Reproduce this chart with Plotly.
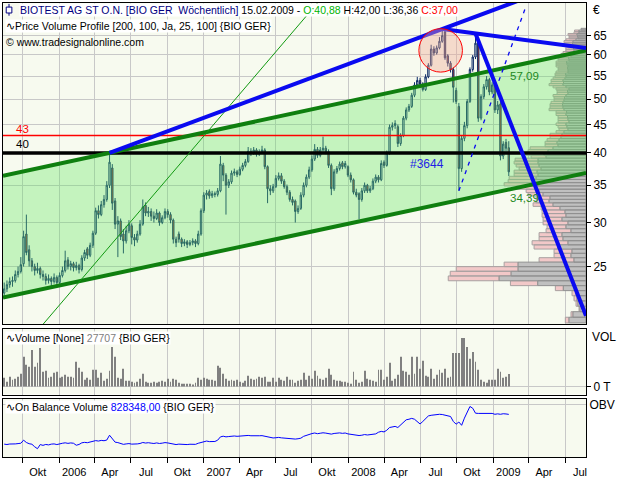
import numpy as np
import pandas as pd
import plotly.graph_objects as go

# ---------------- weekly data: BIOTEST AG ST O.N. (BIO GER) ----------------
weeks = pd.date_range("2005-08-15", periods=183, freq="7D")

opens = [22.4, 22.8, 23.2, 23.5, 23.6, 24.2, 24.5, 25.3, 28.6, 26.8,
         25.6, 25.0, 24.6, 24.8, 24.2, 24.0, 23.6, 23.8, 23.5, 23.9,
         23.4, 24.1, 24.6, 25.7, 25.0, 25.3, 24.9, 25.1, 24.7, 25.9,
         26.9, 26.2, 27.3, 28.7, 31.5, 31.0, 32.3, 33.0, 35.0, 37.6,
         32.8, 29.8, 30.2, 28.6, 27.8, 29.0, 29.6, 28.2, 27.9, 28.6,
         29.8, 32.2, 31.2, 31.4, 30.8, 30.5, 31.2, 30.0, 30.6, 31.4,
         31.0, 30.3, 28.0, 28.6, 28.0, 27.5, 27.7, 27.4, 27.6, 27.8,
         27.5, 28.6, 31.5, 33.6, 34.1, 33.5, 33.8, 33.7, 34.2, 38.0,
         36.5, 35.0, 35.5, 36.8, 37.0, 36.6, 37.4, 38.0, 38.6, 40.3,
         40.0, 40.5, 39.8, 40.2, 40.5, 37.8, 34.5, 34.2, 34.8, 36.0,
         36.4, 35.6, 34.8, 34.0, 33.0, 32.8, 31.4, 31.8, 33.6, 35.0,
         36.2, 37.3, 39.0, 40.6, 39.6, 40.5, 40.8, 40.2, 38.0, 34.5,
         37.0, 37.5, 38.4, 37.8, 37.8, 36.5, 35.8, 34.0, 33.8, 33.0,
         34.2, 35.0, 34.2, 34.5, 35.6, 36.2, 35.8, 38.5, 38.0, 40.0,
         44.5, 44.8, 44.6, 41.6, 43.0, 46.2, 47.8, 48.5, 50.8, 53.0,
         54.0, 53.2, 52.0, 54.8, 57.5, 61.5, 60.5, 61.8, 63.5, 66.0,
         59.8, 58.0, 56.5, 51.8, 48.5, 37.5, 42.5, 44.8, 49.5, 56.5,
         59.5, 63.4, 46.2, 50.5, 52.6, 54.2, 51.5, 53.4, 47.8, 49.0,
         39.5, 41.8, 40.88]

highs = [23.4, 23.6, 23.9, 24.0, 24.6, 25.0, 26.0, 29.0, 31.0, 27.3,
         25.9, 25.3, 25.4, 25.0, 24.6, 24.3, 24.2, 24.0, 24.3, 24.1,
         24.4, 25.0, 26.7, 26.0, 25.6, 25.5, 25.5, 25.3, 26.2, 26.8,
         27.1, 27.6, 29.0, 31.9, 32.2, 32.8, 33.6, 35.6, 40.0, 38.2,
         33.2, 30.8, 30.5, 29.2, 29.6, 30.3, 29.9, 28.6, 29.0, 30.3,
         33.0, 32.6, 32.0, 31.8, 31.4, 31.7, 31.4, 30.9, 31.8, 31.7,
         31.3, 30.5, 28.3, 28.9, 28.2, 28.0, 27.9, 27.9, 28.1, 28.0,
         29.0, 31.8, 34.0, 34.3, 34.4, 34.2, 34.1, 34.6, 39.5, 38.4,
         36.8, 35.9, 37.2, 37.5, 37.3, 37.8, 38.4, 39.0, 41.0, 40.8,
         41.0, 40.8, 40.6, 41.2, 40.8, 38.0, 35.0, 35.2, 36.5, 36.9,
         36.8, 35.9, 35.1, 34.3, 33.4, 33.0, 32.2, 34.0, 35.4, 36.6,
         37.8, 39.6, 41.5, 41.0, 41.0, 42.8, 41.2, 40.6, 38.3, 37.4,
         37.9, 38.6, 38.7, 38.7, 38.0, 36.9, 36.0, 34.5, 34.0, 34.6,
         35.4, 35.2, 34.9, 36.0, 36.6, 36.5, 38.8, 38.8, 40.4, 45.0,
         45.4, 45.8, 45.0, 43.4, 46.6, 48.3, 49.0, 51.3, 53.6, 54.8,
         54.6, 53.6, 55.4, 58.0, 62.6, 62.2, 62.4, 64.6, 66.8, 66.4,
         60.2, 58.5, 57.0, 52.4, 49.2, 43.0, 45.5, 50.0, 57.0, 60.0,
         65.6, 64.0, 51.0, 53.2, 55.0, 54.6, 53.6, 53.8, 49.6, 49.5,
         42.0, 42.4, 42.0]

lows = [21.9, 22.5, 22.9, 23.0, 23.4, 23.9, 24.3, 25.0, 26.2, 25.0,
        24.5, 24.1, 24.3, 23.8, 23.6, 23.2, 23.3, 22.9, 23.3, 23.0,
        23.2, 23.9, 24.4, 24.7, 24.6, 24.5, 24.6, 24.3, 24.5, 25.6,
        25.8, 26.0, 27.0, 28.5, 30.5, 30.8, 31.9, 32.7, 34.6, 31.6,
        29.2, 26.0, 27.9, 26.4, 27.5, 28.7, 27.4, 27.2, 27.6, 28.4,
        29.6, 30.8, 30.7, 30.2, 30.0, 30.3, 29.6, 29.8, 30.4, 30.6,
        29.9, 27.5, 27.1, 27.6, 27.1, 27.2, 27.0, 27.2, 27.3, 27.1,
        27.3, 28.4, 31.2, 33.0, 33.1, 33.2, 33.3, 33.4, 34.0, 35.6,
        31.0, 34.6, 35.2, 36.4, 36.2, 36.4, 37.1, 37.7, 38.4, 39.5,
        39.7, 39.4, 39.5, 39.9, 37.4, 32.5, 33.6, 33.9, 34.6, 35.7,
        35.2, 34.5, 33.6, 32.7, 32.2, 30.0, 31.1, 31.6, 33.3, 34.7,
        35.9, 37.0, 38.7, 39.2, 39.3, 40.2, 39.8, 37.6, 33.6, 34.2,
        36.7, 37.2, 37.4, 37.5, 36.2, 35.4, 33.7, 33.3, 30.4, 32.7,
        33.9, 33.9, 33.9, 34.3, 35.3, 35.4, 35.6, 37.6, 37.8, 39.7,
        43.9, 44.2, 41.0, 41.2, 42.7, 45.8, 47.4, 48.2, 50.4, 52.6,
        52.8, 51.6, 51.7, 54.5, 57.2, 59.8, 60.1, 61.4, 63.1, 58.8,
        57.2, 55.8, 49.3, 49.0, 34.2, 37.0, 42.0, 44.3, 49.2, 56.0,
        59.0, 45.5, 45.8, 50.0, 52.0, 50.8, 51.0, 47.2, 47.0, 38.8,
        39.0, 40.2, 36.36]

closes = [22.8, 23.2, 23.5, 23.6, 24.2, 24.5, 25.2, 28.3, 26.5, 25.6,
          25.0, 24.6, 24.8, 24.2, 24.0, 23.6, 23.8, 23.5, 23.9, 23.4,
          24.1, 24.6, 25.6, 25.0, 25.3, 24.9, 25.1, 24.7, 25.9, 26.5,
          26.2, 27.3, 28.7, 31.5, 31.0, 32.3, 33.0, 35.0, 38.5, 32.5,
          29.8, 30.2, 28.3, 27.8, 29.0, 29.8, 28.2, 27.9, 28.6, 29.8,
          32.0, 31.2, 31.4, 30.8, 30.5, 31.2, 30.0, 30.6, 31.4, 31.0,
          30.3, 28.0, 27.6, 28.0, 27.5, 27.7, 27.4, 27.6, 27.8, 27.5,
          28.6, 31.5, 33.6, 33.9, 33.5, 33.8, 33.7, 34.2, 38.2, 36.5,
          35.0, 35.5, 36.8, 37.0, 36.6, 37.4, 38.0, 38.6, 40.3, 40.0,
          40.5, 39.8, 40.2, 40.5, 37.8, 34.5, 34.2, 34.8, 36.0, 36.4,
          35.6, 34.8, 34.0, 33.0, 32.6, 31.4, 31.8, 33.6, 35.0, 36.2,
          37.3, 39.0, 40.6, 39.6, 40.5, 40.8, 40.2, 38.0, 34.5, 37.0,
          37.5, 38.2, 37.8, 38.3, 36.5, 35.8, 34.0, 33.6, 33.0, 34.2,
          35.0, 34.2, 34.5, 35.6, 36.2, 35.8, 38.3, 38.0, 40.0, 44.5,
          44.8, 45.2, 41.6, 43.0, 46.2, 47.8, 48.5, 50.8, 53.0, 54.0,
          53.2, 52.0, 54.8, 57.5, 61.5, 60.5, 61.8, 63.5, 65.0, 59.3,
          58.0, 56.5, 52.5, 49.5, 37.5, 42.5, 44.8, 49.5, 56.5, 59.5,
          63.0, 46.2, 50.5, 52.6, 54.2, 51.5, 53.0, 47.8, 48.8, 39.5,
          41.5, 40.8, 37.0]

volumes = [19600, 10900, 21800, 15300, 17400, 21800, 28300, 65400, 48000, 43600,
           80700, 43600, 52300, 85000, 32700, 34900, 19600, 21800, 30500, 32700,
           19600, 21800, 26200, 21800, 21800, 19600, 54500, 41400, 32700, 15300,
           19600, 15300, 37100, 37100, 19600, 30500, 13100, 17400, 34900, 87200,
           65400, 19600, 17400, 39200, 13100, 13100, 10900, 8700, 10900, 17400,
           28300, 10900, 8700, 8700, 10900, 8700, 10900, 13100, 10900, 17400,
           10900, 17400, 15300, 8700, 6500, 6500, 6500, 6500, 4400, 8700,
           19600, 15300, 19600, 17400, 15300, 15300, 13100, 45800, 41400, 28300,
           17400, 13100, 15300, 13100, 15300, 10900, 8700, 13100, 24000, 17400,
           15300, 17400, 21800, 19600, 21800, 10900, 10900, 19600, 10900, 19600,
           15300, 13100, 21800, 15300, 15300, 8700, 13100, 15300, 30500, 15300,
           24000, 17400, 34900, 24000, 17400, 15300, 19600, 39200, 26200, 15300,
           13100, 13100, 10900, 10900, 8700, 6500, 32700, 15300, 8700, 10900,
           34900, 17400, 15300, 13100, 10900, 37100, 37100, 15300, 21800, 52300,
           13100, 17400, 26200, 65400, 34900, 32700, 26200, 65400, 28300, 65400,
           39200, 56700, 24000, 21800, 39200, 17400, 26200, 37100, 30500, 39200,
           19600, 21800, 74100, 74100, 74100, 106800, 106800, 87200, 61000, 76300,
           54500, 37100, 15300, 10900, 8700, 15300, 15300, 15300, 39200, 32700,
           19600, 21800, 27707]

obv = [288000, 281000, 290000, 285000, 292000, 298000, 304000, 360000, 318000, 296000,
       286000, 240000, 205000, 280000, 266000, 282000, 274000, 288000, 292000, 280000,
       298000, 304000, 312000, 302000, 310000, 304000, 268000, 282000, 312000, 320000,
       314000, 326000, 340000, 352000, 344000, 356000, 350000, 362000, 450000, 380000,
       324000, 316000, 300000, 284000, 292000, 298000, 288000, 284000, 292000, 300000,
       318000, 308000, 314000, 306000, 300000, 310000, 300000, 306000, 316000, 310000,
       302000, 286000, 280000, 288000, 282000, 286000, 280000, 286000, 290000, 284000,
       304000, 318000, 336000, 344000, 334000, 340000, 336000, 360000, 420000, 432000,
       420000, 426000, 432000, 436000, 430000, 436000, 440000, 444000, 446000, 440000,
       444000, 436000, 440000, 442000, 430000, 420000, 412000, 400000, 404000, 410000,
       402000, 396000, 392000, 388000, 386000, 380000, 386000, 396000, 430000, 450000,
       470000, 480000, 490000, 478000, 486000, 494000, 488000, 480000, 470000, 482000,
       488000, 492000, 484000, 490000, 474000, 466000, 452000, 448000, 444000, 450000,
       462000, 454000, 460000, 466000, 474000, 504000, 520000, 510000, 540000, 590000,
       600000, 610000, 590000, 640000, 680000, 730000, 740000, 756000, 740000, 690000,
       654000, 700000, 760000, 800000, 812000, 820000, 816000, 830000, 826000, 812000,
       800000, 790000, 700000, 650000, 690000, 630000, 760000, 880000, 972000, 940000,
       850000, 846000, 846000, 846000, 840000, 846000, 846000, 830000, 838000, 830000,
       840000, 836000, 828348]

# ---------------- price volume profile (thousand shares per price bin) ----------------
profile_start, profile_step = 19.8, 0.472
profile_up = [170, 130, 60, 80, 90, 100, 227, 483, 870, 750,
              680, 680, 120, 150, 140, 280, 180, 230, 240, 150,
              200, 180, 240, 200, 210, 260, 330, 370, 360, 430,
              470, 500, 530, 520, 500, 480, 490, 450, 470, 480,
              480, 400, 420, 380, 330, 280, 290, 270, 250, 240,
              220, 180, 190, 200, 170, 180, 185, 200, 195, 220,
              230, 235, 230, 220, 215, 200, 180, 185, 170, 200,
              230, 225, 230, 210, 200, 205, 180, 180, 185, 180,
              190, 195, 170, 175, 150, 155, 130, 120, 125, 130,
              130, 135, 130, 100, 80, 85, 90, 70, 70, 50]
profile_down = [37, 20, 10, 20, 30, 40, 80, 274, 510, 610,
                620, 140, 350, 170, 180, 240, 360, 240, 230, 250,
                190, 250, 190, 240, 230, 190, 200, 130, 140, 150,
                130, 200, 290, 260, 270, 240, 230, 220, 230, 240,
                230, 150, 180, 200, 230, 130, 120, 120, 110, 120,
                80, 90, 90, 100, 110, 100, 95, 100, 105, 150,
                130, 125, 120, 100, 105, 130, 110, 105, 130, 130,
                140, 125, 120, 120, 110, 105, 120, 100, 95, 120,
                110, 105, 110, 105, 100, 95, 100, 80, 75, 50,
                110, 85, 90, 100, 90, 85, 90, 50, 45, 0]

# ---------------- axis labels ----------------
quarter_ticks = ["2005-10-01", "2006-01-01", "2006-04-01", "2006-07-01", "2006-10-01",
                 "2007-01-01", "2007-04-01", "2007-07-01", "2007-10-01", "2008-01-01",
                 "2008-04-01", "2008-07-01", "2008-10-01", "2009-01-01", "2009-04-01",
                 "2009-07-01"]
quarter_labels = ["Okt", "2006", "Apr", "Jul", "Okt", "2007", "Apr", "Jul", "Okt",
                  "2008", "Apr", "Jul", "Okt", "2009", "Apr", "Jul"]
price_ticks = [25, 30, 35, 40, 45, 50, 55, 60, 65]

# ---------------- drawing objects ----------------
x_start, x_end = "2005-08-12", "2009-08-23"
price_min, price_max = 19.7, 74.4
channel_upper = (36.4, 57.09)     # value at chart start, value at last bar
channel_lower = (22.0, 34.39)
support_level = 40
resistance_level = 43
fan_end = 20.4                    # falling trend line at the right edge
dashed_end = ("2009-03-23", 72.9)
green_thin = (("2005-11-24", 19.8), ("2007-10-15", 74.4))
circle_box = (("2008-06-27", 55.9), ("2008-10-15", 66.9))

FONT = "Liberation Sans"


def loglin(d0, p0, d1, p1, dates):
    """Straight line on the log price scale through two (date, price) points."""
    t0, t1 = pd.Timestamp(d0), pd.Timestamp(d1)
    span = (t1 - t0) / pd.Timedelta(days=1)
    out = []
    for d in dates:
        f = (pd.Timestamp(d) - t0) / pd.Timedelta(days=1) / span
        out.append(float(np.exp(np.log(p0) + f * (np.log(p1) - np.log(p0)))))
    return out


last = weeks[-1]
upper = loglin(x_start, channel_upper[0], last, channel_upper[1], [x_start, x_end])
lower = loglin(x_start, channel_lower[0], last, channel_lower[1], [x_start, x_end])

fig = go.Figure()

# volume profile on the reversed base axis of the price panel
bin_lo = profile_start + profile_step * np.arange(len(profile_up))
gx, gy, px_, py_ = [], [], [], []
for lo, up, dn in zip(bin_lo, profile_up, profile_down):
    hi = lo + profile_step
    gx += [0, up, up, 0, 0, None]
    gy += [lo, lo, hi, hi, lo, None]
    if dn > 0:
        px_ += [up, up + dn, up + dn, up, up, None]
        py_ += [lo, lo, hi, hi, lo, None]
fig.add_trace(go.Scatter(x=px_, y=py_, xaxis="x", yaxis="y", mode="lines", fill="toself",
                         fillcolor="#F2C8C8", line=dict(color="#A8A0A0", width=1)))
fig.add_trace(go.Scatter(x=gx, y=gy, xaxis="x", yaxis="y", mode="lines", fill="toself",
                         fillcolor="#C0C0C0", line=dict(color="#909090", width=1)))

# trend channel
fig.add_trace(go.Scatter(x=[x_start, x_end, x_end, x_start, x_start],
                         y=[lower[0], lower[1], upper[1], upper[0], lower[0]],
                         xaxis="x4", yaxis="y", mode="lines", fill="toself",
                         fillcolor="rgba(100,230,100,0.35)", line=dict(width=0)))

# candles
fig.add_trace(go.Candlestick(
    x=weeks, open=opens, high=highs, low=lows, close=closes, xaxis="x4", yaxis="y",
    increasing=dict(line=dict(color="#0B2A66", width=1), fillcolor="rgba(0,0,0,0)"),
    decreasing=dict(line=dict(color="#0B2A66", width=1), fillcolor="#E2401A"),
    whiskerwidth=0))

# horizontal levels
fig.add_trace(go.Scatter(x=[x_start, x_end], y=[resistance_level] * 2, xaxis="x4", yaxis="y",
                         mode="lines", line=dict(color="#FF0000", width=1.4)))
fig.add_trace(go.Scatter(x=[x_start, x_end], y=[support_level] * 2, xaxis="x4", yaxis="y",
                         mode="lines", line=dict(color="#000000", width=3.5)))

# channel borders
for seg in (upper, lower):
    fig.add_trace(go.Scatter(x=[x_start, x_end], y=seg, xaxis="x4", yaxis="y", mode="lines",
                             line=dict(color="#0F7F0F", width=4)))

# thin green fan line
g0, g1 = green_thin
gd = ["2005-11-01", "2007-11-15"]
fig.add_trace(go.Scatter(x=gd, y=loglin(g0[0], g0[1], g1[0], g1[1], gd), xaxis="x4", yaxis="y",
                         mode="lines", line=dict(color="#119911", width=1)))

# blue resistance lines through the highs
i_a, i_b, i_c = 38, 158, 170
blue1 = loglin(weeks[i_a], highs[i_a], weeks[i_b], highs[i_b], [weeks[i_a], x_end])
blue2 = loglin(weeks[i_b], highs[i_b], weeks[i_c], highs[i_c], [weeks[i_b], x_end])
fig.add_trace(go.Scatter(x=[weeks[i_a], x_end], y=blue1, xaxis="x4", yaxis="y", mode="lines",
                         line=dict(color="#0A0AF0", width=4)))
fig.add_trace(go.Scatter(x=[weeks[i_b], x_end], y=blue2, xaxis="x4", yaxis="y", mode="lines",
                         line=dict(color="#0A0AF0", width=4)))
fig.add_trace(go.Scatter(x=[weeks[i_c], x_end], y=[highs[i_c], fan_end], xaxis="x4", yaxis="y",
                         mode="lines", line=dict(color="#0A0AF0", width=4)))

# dashed blue line from the crash low
i_low = 164
fig.add_trace(go.Scatter(x=[weeks[i_low], dashed_end[0]], y=[lows[i_low], dashed_end[1]],
                         xaxis="x4", yaxis="y", mode="lines",
                         line=dict(color="#0A0AF0", width=1.3, dash="4px,5px")))

# volume
fig.add_trace(go.Bar(x=weeks, y=volumes, xaxis="x2", yaxis="y2", width=2.3 * 86400000,
                     marker=dict(color="#808080", line=dict(width=0))))

# on balance volume
fig.add_trace(go.Scatter(x=weeks, y=obv, xaxis="x3", yaxis="y3", mode="lines",
                         line=dict(color="#0000FF", width=1)))

# ---------------- layout ----------------
GRID = "#C8C8C8"
date_axis = dict(type="date", tickvals=quarter_ticks, showgrid=True, gridcolor=GRID, gridwidth=1,
                 showline=True, mirror=True, linecolor="#000000", linewidth=1, zeroline=False,
                 showticklabels=False, ticks="")

fig.update_layout(
    width=640, height=480, margin=dict(l=2, r=54, t=2, b=20),
    paper_bgcolor="#FFFFFF", plot_bgcolor="#F7FAEF",
    showlegend=False, hovermode=False,
    font=dict(family=FONT, size=11, color="#000000"),
    xaxis=dict(domain=[0, 1], anchor="y", range=[5840, 0], visible=False, fixedrange=True),
    xaxis4=dict(date_axis, overlaying="x", anchor="y", range=[x_start, x_end],
                rangeslider=dict(visible=False)),
    xaxis2=dict(date_axis, anchor="y2", matches="x4"),
    xaxis3=dict(date_axis, anchor="y3", matches="x4", showticklabels=True, ticktext=quarter_labels,
                ticks="outside", ticklen=5, tickcolor="#000000", ticklabelshift=15,
                tickfont=dict(size=11)),
    yaxis=dict(domain=[0.2926, 1], type="log", range=[np.log10(price_min), np.log10(price_max)],
               side="right", anchor="x", tickvals=price_ticks, ticktext=[str(v) for v in price_ticks],
               ticks="outside", ticklen=4, tickcolor="#000000", showgrid=True, gridcolor=GRID,
               showline=True, mirror=True, linecolor="#000000", linewidth=1,
               tickfont=dict(size=12)),
    yaxis2=dict(domain=[0.1376, 0.2817], range=[-17440, 126440], side="right", anchor="x2",
                tickvals=[0], ticktext=["0 T"], ticks="outside", ticklen=4, tickcolor="#000000",
                showgrid=True, gridcolor=GRID, zeroline=False, showline=True, mirror=True,
                linecolor="#000000", linewidth=1, tickfont=dict(size=12)),
    yaxis3=dict(domain=[0, 0.1288], range=[54348, 1116348], side="right", anchor="x3",
                tickvals=[1000000], ticktext=["OBV"], ticks="", showgrid=True, gridcolor=GRID,
                zeroline=False, showline=True, mirror=True, linecolor="#000000", linewidth=1,
                tickfont=dict(size=12)),
)

# highlighted top
(c0d, c0p), (c1d, c1p) = circle_box
fig.add_shape(type="circle", xref="x4", yref="y", x0=c0d, x1=c1d, y0=c0p, y1=c1p,
              line=dict(color="#FF0000", width=1), fillcolor="rgba(240,170,150,0.40)", layer="above")

# candle icon in the title row
fig.add_shape(type="line", xref="paper", yref="paper", x0=0.0103, x1=0.0103, y0=0.972, y1=0.998,
              line=dict(color="#000080", width=1))
fig.add_shape(type="rect", xref="paper", yref="paper", x0=0.0055, x1=0.0152, y0=0.978, y1=0.991,
              line=dict(color="#000080", width=1), fillcolor="#FFFFFF")


def note(text, x, y, xref="paper", yref="paper", size=10.5, color="#000000", bg=None,
         xanchor="left", yshift=0):
    fig.add_annotation(text=text, x=x, y=y, xref=xref, yref=yref, showarrow=False,
                       xanchor=xanchor, yanchor="middle", yshift=yshift,
                       font=dict(family=FONT, size=size, color=color),
                       bgcolor=bg, borderpad=0)


note("<span style='color:#000080'>BIOTEST AG ST O.N. [BIO GER&nbsp; Wöchentlich]</span> "
     "15.02.2009 - <span style='color:#00B400'>O:40,88</span> H:42,00 L:36,36 "
     "<span style='color:#FF0000'>C:37,00</span>", 0.0274, 0.9847, bg="#FFFFFF")
note("∿Price Volume Profile [200, 100, Ja, 25, 100] {BIO GER}", 0.0034, 0.9498, bg="#FFFFFF")
note("© www.tradesignalonline.com", 0.0034, 0.9148)
note("∿Volume [None] <span style='color:#808080'>27707</span> {BIO GER}", 0.0034, 0.2620,
     bg="#FFFFFF")
note("∿On Balance Volume <span style='color:#0000FF'>828348,00</span> {BIO GER}", 0.0034, 0.1092,
     bg="#FFFFFF")
note("€", 1.0103, 0.9847, size=12)
note("VOL", 1.0086, 0.2642, size=12)

# level and channel labels
note("43", 0.0205, np.log10(resistance_level), yref="y", size=11.5, color="#FF0000", yshift=7)
note("40", 0.0205, np.log10(support_level), yref="y", size=11.5, color="#000000", yshift=9)
note("#3644", "2008-07-17", np.log10(38.2), xref="x4", yref="y", size=12, color="#1E1EE6",
     xanchor="center")
note("57,09", last, np.log10(channel_upper[1]), xref="x4", yref="y", size=11.5, color="#1E8A1E",
     yshift=-9)
note("34,39", last, np.log10(channel_lower[1]), xref="x4", yref="y", size=11.5, color="#1E8A1E",
     yshift=-8)

fig.write_html("out.html")
